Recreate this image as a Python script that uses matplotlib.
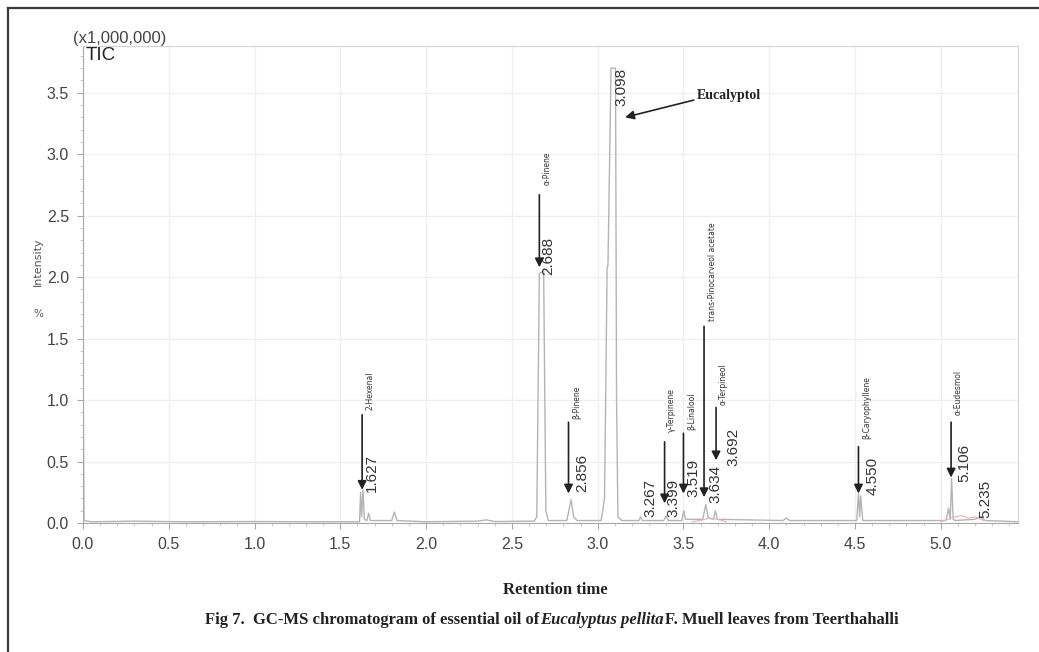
import matplotlib
matplotlib.use("Agg")
import matplotlib.pyplot as plt
from matplotlib.lines import Line2D
from matplotlib.ticker import MultipleLocator

# chromatogram trace (retention time, intensity x1e6)
trace_rt = [0.000, 0.002, 0.006, 0.05, 0.30, 0.60, 1.00, 1.30, 1.600,
            1.612, 1.618, 1.624, 1.632, 1.640, 1.655, 1.665, 1.675, 1.800,
            1.815, 1.830, 2.000, 2.300, 2.350, 2.400, 2.630, 2.645, 2.660,
            2.685, 2.698, 2.712, 2.820, 2.835, 2.845, 2.860, 2.880, 3.020,
            3.040, 3.055, 3.060, 3.078, 3.104, 3.110, 3.118, 3.140, 3.240,
            3.250, 3.260, 3.385, 3.400, 3.410, 3.490, 3.502, 3.512, 3.612,
            3.630, 3.645, 3.675, 3.686, 3.698, 4.080, 4.100, 4.120, 4.510,
            4.520, 4.527, 4.533, 4.545, 5.030, 5.045, 5.055, 5.063, 5.072,
            5.082, 5.200, 5.230, 5.260, 5.450]
trace_int = [0.00, 0.90, 0.02, 0.01, 0.015, 0.01, 0.012, 0.01, 0.01,
             0.01, 0.25, 0.05, 0.27, 0.03, 0.02, 0.08, 0.02, 0.02,
             0.09, 0.02, 0.01, 0.015, 0.025, 0.012, 0.015, 0.05, 2.03,
             2.05, 0.10, 0.02, 0.02, 0.12, 0.19, 0.05, 0.02, 0.02,
             0.20, 2.07, 2.10, 3.70, 3.70, 1.00, 0.05, 0.02, 0.02,
             0.05, 0.02, 0.02, 0.06, 0.02, 0.02, 0.10, 0.03, 0.03,
             0.15, 0.04, 0.03, 0.10, 0.03, 0.02, 0.04, 0.02, 0.02,
             0.24, 0.05, 0.22, 0.02, 0.02, 0.12, 0.03, 0.36, 0.03,
             0.02, 0.03, 0.05, 0.02, 0.01]

# faint pink background trace segments
pink_rt = [3.55, 3.60, 3.65, 3.70, 3.75, None, 5.00, 5.08, 5.12, 5.16, 5.20, 5.25]
pink_int = [0.01, 0.02, 0.04, 0.03, 0.01, None, 0.01, 0.05, 0.06, 0.04, 0.05, 0.02]

# peak labels
peak_labels = ["1.627", "2.688", "2.856", "3.098", "3.267", "3.399",
               "3.519", "3.634", "3.692", "4.550", "5.106", "5.235"]
label_pos = [(1.685, 0.25), (2.71, 2.02), (2.91, 0.25), (3.14, 3.39),
             (3.31, 0.05), (3.44, 0.05), (3.56, 0.21), (3.685, 0.16),
             (3.79, 0.46), (4.60, 0.23), (5.14, 0.33), (5.26, 0.04)]

# arrows: x, tail y, tip y
arrows = [(1.627, 0.88, 0.27), (2.66, 2.67, 2.08), (2.83, 0.82, 0.24),
          (3.39, 0.66, 0.16), (3.50, 0.73, 0.24), (3.62, 1.60, 0.21),
          (3.69, 0.94, 0.51), (4.52, 0.62, 0.24), (5.06, 0.82, 0.37)]

compound_names = ["2-Hexenal", "α-Pinene", "β-Pinene", "γ-Terpinene",
                  "β-Linalool", "trans-Pinocarveol acetate", "α-Terpineol",
                  "β-Caryophyllene", "α-Eudesmol"]
name_pos = [(1.67, 0.92), (2.705, 2.75), (2.88, 0.85), (3.43, 0.74),
            (3.55, 0.76), (3.67, 1.64), (3.73, 0.96), (4.57, 0.68), (5.10, 0.88)]

W, H = 1039, 652
fig = plt.figure(figsize=(W / 100, H / 100), dpi=100)
fig.patch.set_facecolor("white")
ax = fig.add_axes([83 / W, 1 - 523 / H, (1018 - 83) / W, (523 - 46) / H])

ax.plot(trace_rt, trace_int, color="#b4b4b4", lw=1.0)
ax.plot(pink_rt, pink_int, color="#e6b8bc", lw=0.9)

ax.set_xlim(0, 5.45)
ax.set_ylim(0, 3.88)
ax.xaxis.set_minor_locator(MultipleLocator(0.1))
ax.yaxis.set_major_locator(MultipleLocator(0.5))
ax.yaxis.set_minor_locator(MultipleLocator(0.1))
ax.set_xticks([0, 0.5, 1, 1.5, 2, 2.5, 3, 3.5, 4, 4.5, 5])
ax.grid(True, which="major", color="#efefef", lw=0.9)
ax.set_axisbelow(True)
for side in ["left", "bottom"]:
    ax.spines[side].set_color("#a8a8a8")
for side in ["top", "right"]:
    ax.spines[side].set_color("#d4d4d4")
ax.tick_params(which="major", length=4, color="#a8a8a8", labelsize=11.5,
               labelcolor="#444444", pad=6, labelfontfamily="Liberation Sans")
ax.tick_params(which="minor", length=2.5, color="#c0c0c0")
ax.xaxis.set_major_formatter(matplotlib.ticker.FormatStrFormatter("%.1f"))
ax.yaxis.set_major_formatter(matplotlib.ticker.FormatStrFormatter("%.1f"))

for lab, (x, y) in zip(peak_labels, label_pos):
    ax.text(x, y, lab, rotation=90, ha="center", va="bottom", fontsize=11,
            color="#333333", family="Liberation Sans")

for x, y0, y1 in arrows:
    ax.annotate("", xy=(x, y1), xytext=(x, y0),
                arrowprops=dict(arrowstyle="-|>", color="#222222", lw=1.2,
                                mutation_scale=13, shrinkA=0, shrinkB=0))

for name, (x, y) in zip(compound_names, name_pos):
    ax.text(x, y, name, rotation=90, ha="center", va="bottom", fontsize=5.5,
            color="#333333", family="DejaVu Sans")

# Eucalyptol label
ax.annotate("", xy=(3.16, 3.30), xytext=(3.56, 3.44),
            arrowprops=dict(arrowstyle="-|>", color="#222222", lw=1.2,
                            mutation_scale=13, shrinkA=0, shrinkB=0))
ax.text(3.58, 3.48, "Eucalyptol", fontsize=10, fontweight="bold",
        family="Liberation Serif", ha="left", va="center", color="#222222")

# header texts
fig.text(120 / W, 1 - 38 / H, "(x1,000,000)", fontsize=12, ha="center",
         va="center", color="#444444", family="Liberation Sans")
fig.text(86 / W, 1 - 56 / H, "TIC", fontsize=13.5, ha="left", va="center",
         color="#222222", family="Liberation Sans")

# y label
fig.text(38 / W, 1 - 314 / H, "%", fontsize=7.5, ha="center", va="center",
         color="#555555", family="DejaVu Sans")
fig.text(38 / W, 1 - 262 / H, "Intensity", fontsize=8, rotation=90,
         ha="center", va="center", color="#555555", family="DejaVu Sans")

# x label and caption
fig.text(555 / W, 1 - 590 / H, "Retention time", fontsize=12, fontweight="bold",
         family="Liberation Serif", ha="center", va="center", color="#222222")

parts = [("Fig 7.  GC-MS chromatogram of essential oil of", "normal"),
         ("Eucalyptus pellita", "italic"),
         ("F. Muell leaves from Teerthahalli", "normal")]
fig.canvas.draw()
renderer = fig.canvas.get_renderer()
x_px = 205
for txt, style in parts:
    t = fig.text(x_px / W, 1 - 620 / H, txt, fontsize=12, fontweight="bold",
                 fontstyle=style, family="Liberation Serif", ha="left",
                 va="center", color="#222222")
    bb = t.get_window_extent(renderer)
    x_px = x_px + bb.width + 1

# outer frame
fig.add_artist(Line2D([8 / W, 8 / W], [0, 1 - 8 / H], color="#3a3a3a", lw=1.6))
fig.add_artist(Line2D([8 / W, 1], [1 - 8 / H, 1 - 8 / H], color="#3a3a3a", lw=1.6))

fig.savefig("out.png", dpi=100)
